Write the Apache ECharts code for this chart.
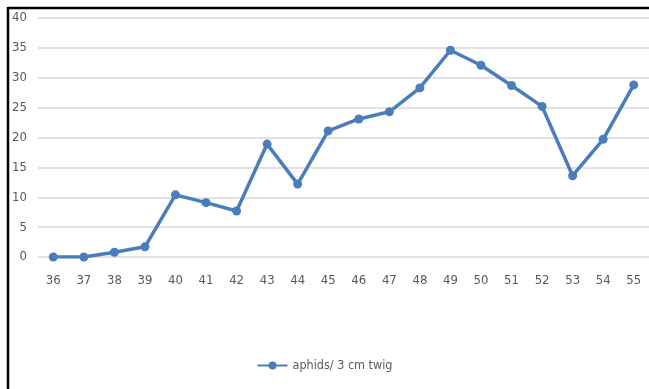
<!DOCTYPE html>
<html>
<head>
<meta charset="utf-8">
<script src="https://cdn.jsdelivr.net/npm/echarts@6/dist/echarts.min.js"></script>
<style>
  html, body { margin: 0; padding: 0; background: #fff; }
  #chart { width: 649px; height: 389px; }
</style>
</head>
<body>
<div id="chart"></div>
<script>
// Weekly counts of aphids per 3 cm twig
const weeks = ['36','37','38','39','40','41','42','43','44','45','46','47','48','49','50','51','52','53','54','55'];
const aphids = [0, 0, 0.8, 1.7, 10.4, 9.1, 7.7, 18.9, 12.2, 21.1, 23.1, 24.3, 28.3, 34.6, 32.1, 28.7, 25.2, 13.6, 19.7, 28.8];
const seriesName = 'aphids/ 3 cm twig';

const font = "'Liberation Sans Narrow', 'DejaVu Sans Condensed', sans-serif";
const blue = '#4a7ebb';

const chart = echarts.init(document.getElementById('chart'));
chart.setOption({
  animation: false,
  backgroundColor: '#fff',
  grid: { left: 38, right: 0, top: 18, bottom: 132 },
  xAxis: {
    type: 'category',
    data: weeks,
    boundaryGap: true,
    axisLine: { show: false },
    axisTick: { show: false },
    axisLabel: { color: '#595959', fontFamily: font, fontSize: 13, margin: 17 }
  },
  yAxis: {
    type: 'value',
    min: 0, max: 40, interval: 5,
    axisLine: { show: false },
    axisTick: { show: false },
    splitLine: { lineStyle: { color: '#d9d9d9', width: 1.5 } },
    axisLabel: { color: '#595959', fontFamily: font, fontSize: 13, margin: 11 }
  },
  legend: {
    bottom: 12,
    left: 'center',
    itemWidth: 30,
    itemHeight: 10,
    itemGap: 4,
    textStyle: { color: '#595959', fontFamily: font, fontSize: 12.5 },
    data: [seriesName]
  },
  series: [{
    name: seriesName,
    type: 'line',
    data: aphids,
    symbol: 'circle',
    symbolSize: 9,
    lineStyle: { color: blue, width: 3.5 },
    itemStyle: { color: blue }
  }],
  graphic: [
    { type: 'line', shape: { x1: 8, y1: 8, x2: 649, y2: 8 }, style: { stroke: '#000', lineWidth: 2.5 } },
    { type: 'line', shape: { x1: 8, y1: 7, x2: 8, y2: 389 }, style: { stroke: '#000', lineWidth: 2.5 } }
  ]
});
</script>
</body>
</html>
